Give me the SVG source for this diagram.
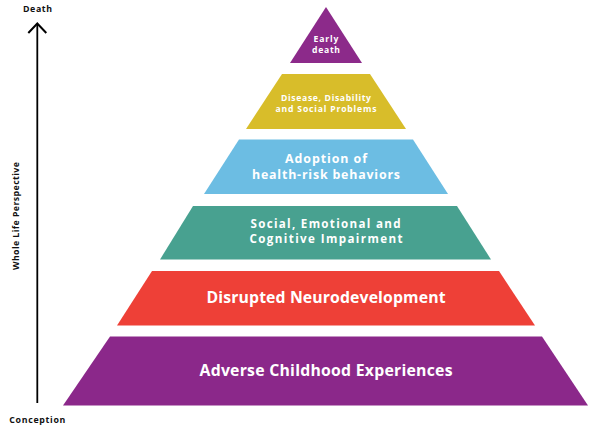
<svg xmlns="http://www.w3.org/2000/svg" width="594" height="438" viewBox="0 0 594 438">
<style>
.lbl{font-family:"Open Sans","Liberation Sans",sans-serif;font-weight:700;fill:#ffffff;text-anchor:middle}
.axis{font-family:"Open Sans","Liberation Sans",sans-serif;font-weight:700;fill:#111111;font-size:8.8px}
</style>
<rect width="594" height="438" fill="#ffffff"/>
<g id="connectors">
<line x1="37.3" y1="24" x2="37.3" y2="403" stroke="#000" stroke-width="1.8"/>
<polyline points="28.3,33 37.3,23.5 46.3,33" fill="none" stroke="#000" stroke-width="2"/>
</g>
<g id="axis-labels">
<text class="axis" x="23" y="11.7" textLength="29" lengthAdjust="spacing">Death</text>
<text class="axis" x="9.3" y="423" textLength="56" lengthAdjust="spacing">Conception</text>
<text class="axis" transform="translate(18.5,216) rotate(-90)" text-anchor="middle" textLength="108" lengthAdjust="spacing">Whole Life Perspective</text>
</g>
<g id="early-death">
<polygon points="326,7 362,63 290,63" fill="#8C2A8A"/>
<text class="lbl" x="326" y="41.7" font-size="8.6" textLength="25" lengthAdjust="spacing">Early</text>
<text class="lbl" x="326" y="52.7" font-size="8.6" textLength="28" lengthAdjust="spacing">death</text>
</g>
<g id="disease">
<polygon points="282,74 370,74 406,129 246,129" fill="#D8BD2A"/>
<text class="lbl" x="326" y="101" font-size="8.6" textLength="90" lengthAdjust="spacing">Disease, Disability</text>
<text class="lbl" x="326" y="111.7" font-size="8.6" textLength="101" lengthAdjust="spacing">and Social Problems</text>
</g>
<g id="adoption">
<polygon points="239,139.5 413,139.5 448,194 204,194" fill="#6CBDE3"/>
<text class="lbl" x="326" y="163.3" font-size="12.4" textLength="82" lengthAdjust="spacing">Adoption of</text>
<text class="lbl" x="326" y="179.3" font-size="12.4" textLength="148" lengthAdjust="spacing">health-risk behaviors</text>
</g>
<g id="impairment">
<polygon points="193,206 457,206 491,259.5 160,259.5" fill="#48A190"/>
<text class="lbl" x="325.5" y="228.3" font-size="11.6" textLength="150" lengthAdjust="spacing">Social, Emotional and</text>
<text class="lbl" x="326" y="243.3" font-size="11.6" textLength="153" lengthAdjust="spacing">Cognitive Impairment</text>
</g>
<g id="neurodevelopment">
<polygon points="152,271 499,271 535,325.5 117,325.5" fill="#EE4037"/>
<text class="lbl" x="326" y="303.3" font-size="15.8" textLength="239" lengthAdjust="spacing">Disrupted Neurodevelopment</text>
</g>
<g id="ace">
<polygon points="110,336.5 542,336.5 588,405.5 63,405.5" fill="#8B288A"/>
<text class="lbl" x="326" y="376" font-size="15.8" textLength="253" lengthAdjust="spacing">Adverse Childhood Experiences</text>
</g>
</svg>
